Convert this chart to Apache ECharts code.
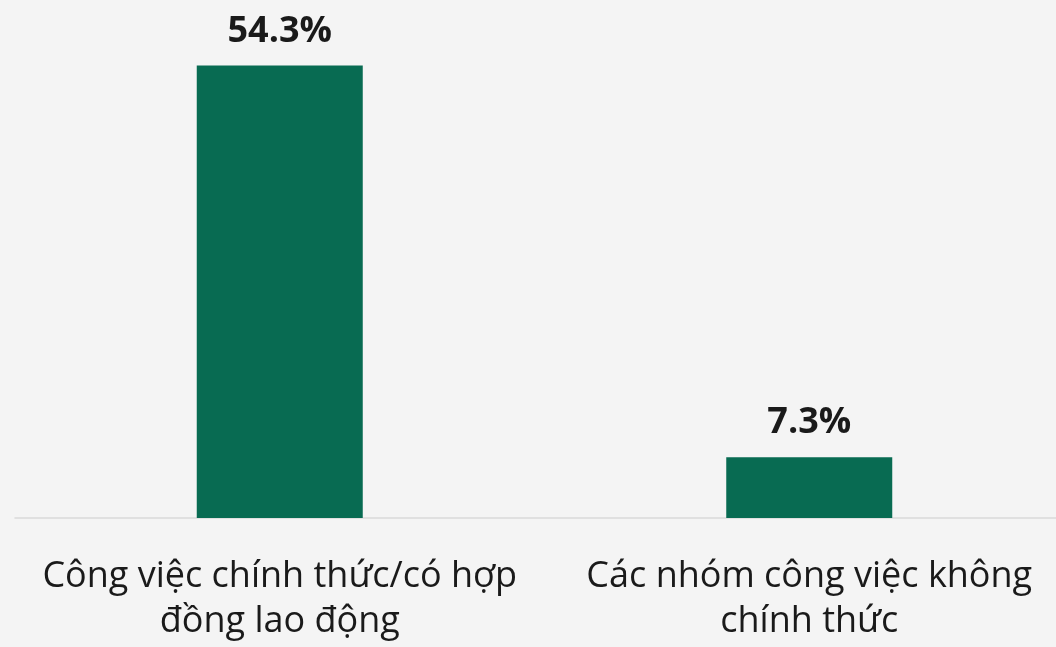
<!DOCTYPE html>
<html><head><meta charset="utf-8">
<style>html,body{margin:0;padding:0;background:#f4f4f4;overflow:hidden;width:1056px;height:647px;}#c{width:1074px;height:647px;}</style>
<script src="https://cdn.jsdelivr.net/npm/echarts@6/dist/echarts.min.js"></script>
</head><body><div id="c"></div>
<script>
const categories = ['Công việc chính thức/có hợp\nđồng lao động', 'Các nhóm công việc không\nchính thức'];
const values = [54.3, 7.3];
const chart = echarts.init(document.getElementById('c'), null, {renderer: 'canvas'});
chart.setOption({
  backgroundColor: '#f4f4f4',
  animation: false,
  grid: {left: 15, top: 18, right: 0, bottom: 129, containLabel: false},
  xAxis: {
    type: 'category', data: categories,
    axisLine: {show: true, lineStyle: {color: '#d9d9d9', width: 1.5}},
    axisTick: {show: false},
    axisLabel: {interval: 0, margin: 36, color: '#1a1a1a', fontFamily: 'Open Sans', fontSize: 36, lineHeight: 45}
  },
  yAxis: {type: 'value', min: 0, max: 60, show: false, splitLine: {show: false}},
  series: [{
    type: 'bar', data: values, barWidth: 166,
    itemStyle: {color: '#086b52'},
    label: {show: true, position: 'top', distance: 16, formatter: p => p.value.toFixed(1) + '%', fontFamily: 'Open Sans', fontWeight: 'bold', fontSize: 36, color: '#1a1a1a'}
  }]
});
</script></body></html>
